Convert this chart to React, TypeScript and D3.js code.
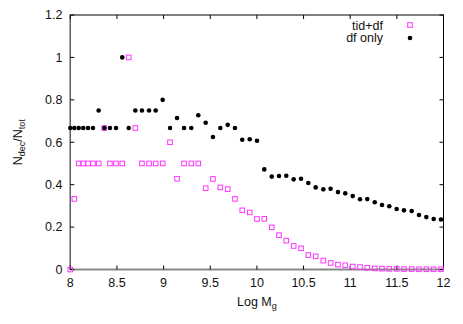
import React, { useMemo } from 'react'
import * as d3 from 'd3'

// log mass bins (shared by both series)
const logM = [
  8.0, 8.043, 8.09, 8.139, 8.19, 8.243, 8.304, 8.364, 8.425, 8.49,
  8.557, 8.626, 8.697, 8.768, 8.844, 8.915, 8.99, 9.069, 9.144, 9.219,
  9.297, 9.372, 9.451, 9.529, 9.608, 9.687, 9.765, 9.843, 9.923, 10.001,
  10.079, 10.159, 10.237, 10.315, 10.394, 10.473, 10.551, 10.63, 10.712, 10.79,
  10.869, 10.947, 11.027, 11.105, 11.183, 11.263, 11.341, 11.419, 11.498, 11.576,
  11.659, 11.737, 11.816, 11.895, 11.973,
]

const tidDf = [
  0, 0.333, 0.5, 0.5, 0.5, 0.5, 0.5, 0.667, 0.5, 0.5,
  0.5, 1.0, 0.667, 0.5, 0.5, 0.5, 0.5, 0.6, 0.428, 0.5,
  0.5, 0.5, 0.383, 0.427, 0.387, 0.379, 0.333, 0.279, 0.269, 0.238,
  0.239, 0.199, 0.162, 0.136, 0.111, 0.1, 0.068, 0.062, 0.042, 0.031,
  0.023, 0.02, 0.014, 0.011, 0.008, 0.005, 0.004, 0.003, 0.003, 0.002,
  0.002, 0.001, 0.001, 0.001, 0.001,
]

const dfOnly = [
  0.667, 0.667, 0.667, 0.667, 0.667, 0.667, 0.75, 0.667, 0.667, 0.667,
  1.0, 0.667, 0.75, 0.75, 0.75, 0.75, 0.8, 0.667, 0.714, 0.667,
  0.667, 0.727, 0.692, 0.625, 0.667, 0.682, 0.667, 0.612, 0.614, 0.607,
  0.472, 0.438, 0.441, 0.442, 0.425, 0.428, 0.408, 0.387, 0.378, 0.381,
  0.365, 0.359, 0.346, 0.331, 0.332, 0.317, 0.304, 0.298, 0.285, 0.279,
  0.276, 0.257, 0.247, 0.238, 0.236,
]

const xTicks = [8, 8.5, 9, 9.5, 10, 10.5, 11, 11.5, 12]
const yTicks = [0, 0.2, 0.4, 0.6, 0.8, 1, 1.2]

const W = 463
const H = 324
const left = 70.3
const right = 443.5
const top = 15
const bottom = 269.5
const FONT = '"Liberation Sans", Arial, sans-serif'
const MAGENTA = '#ff33ff'

const App: React.FC = () => {
  const x = useMemo(() => d3.scaleLinear().domain([8, 12]).range([left, right]), [])
  const y = useMemo(() => d3.scaleLinear().domain([0, 1.2]).range([bottom, top]), [])
  const sq = 4.6

  return (
    <svg
      width={W}
      height={H}
      style={{ position: 'absolute', left: 0, top: 0, background: '#fff' }}
      fontFamily={FONT}
    >
      {/* frame */}
      <rect x={left} y={top} width={right - left} height={bottom - top} fill="none" stroke="#000" strokeWidth={1} />
      <line x1={left} x2={left} y1={top} y2={bottom} stroke="#666" strokeWidth={1.2} />
      <line x1={left} x2={right} y1={bottom} y2={bottom} stroke="#888" strokeWidth={2} />

      {/* ticks */}
      {yTicks.map(t => (
        <g key={'y' + t}>
          <line x1={left} x2={left + 4} y1={y(t)} y2={y(t)} stroke="#000" />
          <line x1={right} x2={right - 4} y1={y(t)} y2={y(t)} stroke="#000" />
          <text x={62.5} y={y(t)} dy="0.35em" textAnchor="end" fontSize={12.5} fill="#111">
            {t}
          </text>
        </g>
      ))}
      {xTicks.map(t => (
        <g key={'x' + t}>
          <line x1={x(t)} x2={x(t)} y1={bottom} y2={bottom - 4} stroke="#000" />
          <line x1={x(t)} x2={x(t)} y1={top} y2={top + 4} stroke="#000" />
          <text x={x(t)} y={287} textAnchor="middle" fontSize={12.5} fill="#111">
            {t}
          </text>
        </g>
      ))}

      {/* axis titles */}
      <text x={(left + right) / 2} y={306} textAnchor="middle" fontSize={12.5} fill="#111">
        Log M<tspan fontSize={9} dy={3}>g</tspan>
      </text>
      <text
        transform={`translate(22,${(top + bottom) / 2}) rotate(-90)`}
        textAnchor="middle"
        fontSize={12.5}
        fill="#111"
      >
        N<tspan fontSize={9} dy={3}>dec</tspan>
        <tspan dy={-3}>/N</tspan>
        <tspan fontSize={9} dy={3}>tot</tspan>
      </text>

      {/* tid+df series */}
      {logM.map((m, i) => (
        <rect
          key={'t' + i}
          x={x(m) - sq / 2}
          y={y(tidDf[i]) - sq / 2}
          width={sq}
          height={sq}
          fill="none"
          stroke={MAGENTA}
          strokeWidth={1}
        />
      ))}

      {/* df only series */}
      {logM.map((m, i) => (
        <circle key={'d' + i} cx={x(m)} cy={y(dfOnly[i])} r={2.3} fill="#000" />
      ))}

      {/* legend */}
      <text x={383} y={29.5} textAnchor="end" fontSize={12.5} fill="#111">
        tid+df
      </text>
      <rect x={410 - sq / 2} y={25 - sq / 2} width={sq} height={sq} fill="none" stroke={MAGENTA} strokeWidth={1} />
      <text x={383} y={42} textAnchor="end" fontSize={12.5} fill="#111">
        df only
      </text>
      <circle cx={410} cy={38} r={2.3} fill="#000" />
    </svg>
  )
}

export default App
